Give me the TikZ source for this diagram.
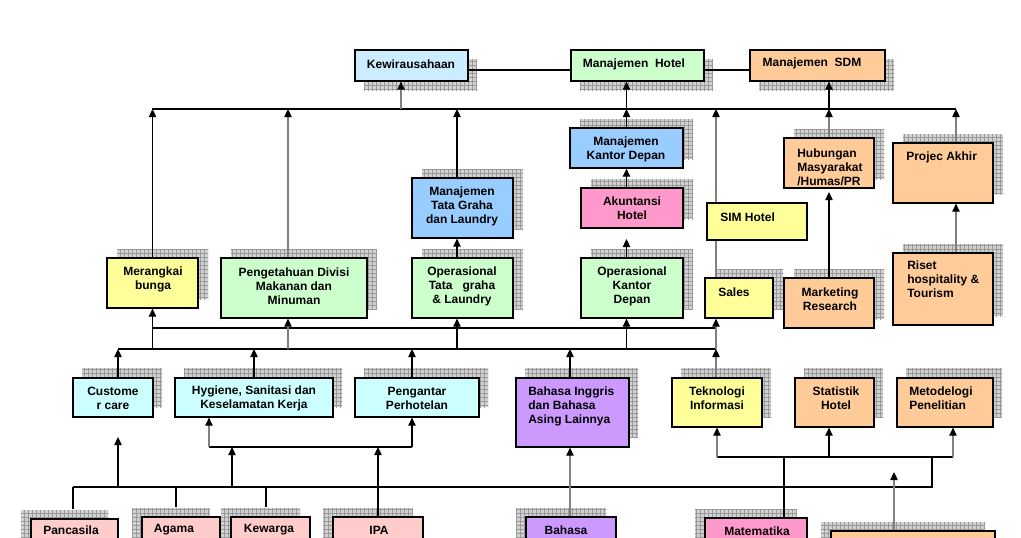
\documentclass[tikz,border=0pt]{standalone}
\usepackage{fontspec}
\setmainfont{Liberation Sans}
\usetikzlibrary{arrows.meta,patterns,fit}
\pgfdeclarelayer{bg}\pgfdeclarelayer{lines}
\pgfsetlayers{bg,lines,main}
\definecolor{cK}{HTML}{CCECFF}
\definecolor{cG}{HTML}{CCFFCC}
\definecolor{cO}{HTML}{FFCC99}
\definecolor{cY}{HTML}{FFFF99}
\definecolor{cB}{HTML}{99CCFF}
\definecolor{cR}{HTML}{FF99CC}
\definecolor{cT}{HTML}{CCFFFF}
\definecolor{cL}{HTML}{CC99FF}
\definecolor{cP}{HTML}{FFCCCC}
\tikzset{
  bxs/.style={draw=black,line width=0.9pt,inner sep=0pt},
  tx/.style={font=\fontsize{9}{10.5}\selectfont\bfseries,inner sep=0pt,align=center},
  txl/.style={tx,align=left,anchor=west},
  blk/.style={draw=black,line width=0.9pt},
  gry/.style={draw=gray,line width=0.9pt},
  ar/.style={-{Triangle[length=6pt,width=5.5pt,color=black]}}
}
\newcommand\shbox[8]{%
  \begin{pgfonlayer}{bg}
    \fill[gray!35] ({#2+(#7)},{#3+(#8)}) rectangle ({#4+(#7)},{#5+(#8)});
    \fill[pattern=grid,pattern color=gray!80] ({#2+(#7)},{#3+(#8)}) rectangle ({#4+(#7)},{#5+(#8)});
  \end{pgfonlayer}
  \node[bxs,fill=#6,fit={(#2,#3) (#4,#5)}] (#1) {};
}
\begin{document}
\begin{tikzpicture}[x=0.75pt,y=-0.75pt]
\useasboundingbox (0,0) rectangle (1021,537);
\begin{pgfonlayer}{bg}
  \fill[white] (0,0) rectangle (1021,537);
\end{pgfonlayer}
% top row
\shbox{K}{355}{50}{468}{81}{cK}{9}{9}
\shbox{MH}{571}{50}{704}{81}{cG}{9}{9}
\shbox{SDM}{750}{50}{885}{81}{cO}{9}{9}
% second row
\shbox{MKD}{570}{128}{683}{168}{cB}{10}{-9}
\shbox{Hub}{784}{138}{874}{188}{cO}{10}{-9}
\shbox{Proj}{893}{143}{993}{203}{cO}{10}{-9}
\shbox{MTG}{412}{178}{513}{238}{cB}{10}{-9}
\shbox{Akun}{581}{188}{683}{228}{cR}{10}{-9}
% third row
\shbox{Mer}{107}{258}{198}{308}{cY}{10}{-9}
\shbox{Pen}{221}{258}{367}{318}{cG}{10}{-9}
\shbox{OTG}{412}{258}{513}{318}{cG}{10}{-9}
\shbox{OKD}{581}{258}{683}{318}{cG}{10}{-9}
\shbox{Sales}{705}{278}{773}{318}{cY}{10}{-9}
\shbox{MR}{784}{278}{874}{328}{cO}{10}{-9}
\shbox{Riset}{893}{253}{993}{325}{cO}{10}{-9}
% fourth row
\shbox{Cust}{73}{378}{153}{417}{cT}{9}{-10}
\shbox{Hyg}{175}{378}{333}{417}{cT}{9}{-10}
\shbox{Peng}{355}{378}{479}{417}{cT}{9}{-10}
\shbox{BI}{516}{378}{629}{447}{cL}{9}{-10}
\shbox{TI}{672}{378}{762}{427}{cY}{9}{-10}
\shbox{Stat}{795}{378}{874}{427}{cO}{9}{-10}
\shbox{Met}{897}{378}{993}{427}{cO}{9}{-10}
% bottom row
\shbox{Panc}{31}{519}{118}{548}{cP}{-10}{-9}
\shbox{Agama}{142}{517}{220}{548}{cP}{-10}{-9}
\shbox{Kew}{231}{517}{310}{548}{cP}{-10}{-9}
\shbox{IPA}{333}{517}{423}{548}{cP}{-10}{-9}
\shbox{Bah}{526}{517}{616}{548}{cL}{-10}{-9}
\shbox{Mat}{705}{518}{807}{548}{cR}{-10}{-9}
\shbox{BR}{831}{531}{995}{548}{cO}{-10}{-9}
% SIM Hotel (no shadow)
\node[bxs,fill=cY,fit={(707,203) (807,240)}] (SIM) {};

% texts
\node[tx] (tK) at (411,64) {Kewirausahaan};
\node[tx] (tMH) at (634,64) {Manajemen\ \ Hotel};
\node[tx] (tSDM) at (812,63) {Manajemen\ \ SDM};
\node[tx] (tMKD) at (626,149) {Manajemen\\Kantor Depan};
\node[txl] (tHub) at (797,167) {Hubungan\\Masyarakat\\/Humas/PR};
\node[txl] (tProj) at (906,157) {Projec Akhir};
\node[tx] (tMTG) at (462,206) {Manajemen\\Tata Graha\\dan Laundry};
\node[tx] (tAkun) at (632,208) {Akuntansi\\Hotel};
\node[txl] (tSIM) at (720,217) {SIM Hotel};
\node[tx] (tMer) at (153,279) {Merangkai\\bunga};
\node[tx] (tPen) at (294,286) {Pengetahuan Divisi\\Makanan dan\\Minuman};
\node[tx] (tOTG) at (462,286) {Operasional\\Tata\ \ \ graha\\\&~Laundry};
\node[tx] (tOKD) at (632,286) {Operasional\\Kantor\\Depan};
\node[txl] (tSales) at (718,292) {Sales};
\node[tx] (tMR) at (830,299) {Marketing\\Research};
\node[txl] (tRiset) at (907,279) {Riset\\hospitality \&\\Tourism};
\node[tx] (tCust) at (113,398) {Custome\\r care};
\node[tx] (tHyg) at (254,398) {Hygiene, Sanitasi dan\\Keselamatan Kerja};
\node[tx] (tPeng) at (417,398) {Pengantar\\Perhotelan};
\node[txl] (tBI) at (528,406) {Bahasa Inggris\\dan Bahasa\\Asing Lainnya};
\node[tx] (tTI) at (717,398) {Teknologi\\Informasi};
\node[tx] (tStat) at (836,398) {Statistik\\Hotel};
\node[txl] (tMet) at (909,398) {Metodelogi\\Penelitian};
\node[tx] (tPanc) at (71,530.5) {Pancasila};
\node[tx] (tAg) at (174,530) {Agama};
\node[tx] (tKew) at (269,530) {Kewarga};
\node[tx] (tIPA) at (379,530) {IPA};
\node[tx] (tBah) at (566,530) {Bahasa};
\node[tx] (tMat) at (757,531) {Matematika};

\begin{pgfonlayer}{lines}
% top connectors
\draw[blk] (K.east |- 0,70) -- (MH.west |- 0,70);
\draw[blk] (MH.east |- 0,70) -- (SDM.west |- 0,70);
\coordinate (tb1) at (152,109);
\coordinate (tb2) at (956,109);
\draw[blk] (tb1) -- (tb2);
\coordinate (kx) at (401,109);
\draw[gry,ar] (kx) -- (kx |- K.south);
\draw[blk,ar] (MKD.north) -- (MKD.north |- tb1);
\draw[blk,ar] (MKD.north |- tb1) -- (MKD.north |- MH.south);
\draw[gry,ar] (Hub.north) -- (Hub.north |- tb1);
\draw[blk,ar] (Hub.north |- tb1) -- (Hub.north |- SDM.south);
\draw[blk,ar] (Mer.north) -- (Mer.north |- tb1);
\coordinate (pgx) at (288,109);
\draw[gry,ar] (pgx |- Pen.north) -- (pgx);
\coordinate (tgx) at (457,109);
\draw[blk,ar] (tgx |- MTG.north) -- (tgx);
\draw[blk,ar] (tgx |- OTG.north) -- (tgx |- MTG.south);
\draw[blk,ar] (MKD.north |- Akun.north) -- (MKD.south);
\coordinate (okdtip) at (626.5,239);
\draw[blk,ar] (MKD.north |- OKD.north) -- (okdtip);
\coordinate (sx) at (716,109);
\draw[gry,ar] (sx |- Sales.north) -- (sx);
\coordinate (hubtip) at (829,192);
\draw[blk,ar] (MR.north) -- (hubtip);
\draw[gry,ar] (tb2 |- Proj.north) -- (tb2);
\draw[gry,ar] (tb2 |- Riset.north) -- (tb2 |- Proj.south);
% middle buses
\coordinate (m1a) at (152,328);
\coordinate (m1b) at (716,328);
\coordinate (m2a) at (118,349);
\coordinate (m2b) at (716,349);
\draw[blk] (m1a) -- (m1b);
\draw[blk] (m2a) -- (m2b);
\draw[blk,ar] (m2a -| Mer.south) -- (Mer.south);
\draw[gry,ar] (m2a -| pgx) -- (pgx |- Pen.south);
\draw[blk,ar] (m2a -| tgx) -- (tgx |- OTG.south);
\draw[blk,ar] (m2a -| MKD.north) -- (MKD.north |- OKD.south);
\draw[gry,ar] (m1b) -- (sx |- Sales.south);
\draw[gry] (m2b) -- (m1b);
\draw[gry,ar] (m2b |- TI.north) -- (m2b);
\draw[blk,ar] (m2a |- Cust.north) -- (m2a);
\draw[blk,ar] (Hyg.north) -- (Hyg.north |- m2a);
\coordinate (pnx) at (412,349);
\draw[blk,ar] (pnx |- Peng.north) -- (pnx);
\coordinate (bix) at (570,349);
\draw[blk,ar] (bix |- BI.north) -- (bix);
% lower buses
\coordinate (l3a) at (73,487);
\coordinate (l3b) at (932,487);
\coordinate (l4a) at (717,457);
\coordinate (l4b) at (953,457);
\coordinate (l4c) at (932,457);
\draw[blk] (l3a) -- (l3b) -- (l4c);
\draw[blk] (l4a) -- (l4b);
\draw[blk,shorten >=6.75pt] (l3a) -- (l3a |- Panc.north);
\coordinate (agx) at (176,487);
\draw[blk,shorten >=6.75pt] (agx) -- (agx |- Agama.north);
\coordinate (kwx) at (266,487);
\draw[blk,shorten >=6.75pt] (kwx) -- (kwx |- Kew.north);
\coordinate (ccx) at (118,487);
\coordinate (cctip) at (118,437);
\draw[blk,ar] (ccx) -- (cctip);
\coordinate (h1) at (209,447);
\coordinate (h2) at (412,447);
\draw[blk] (h1) -- (h2);
\draw[gry,ar] (h1) -- (h1 |- Hyg.south);
\draw[blk,ar] (h2) -- (h2 |- Peng.south);
\coordinate (hx) at (232,487);
\draw[blk,ar] (hx) -- (hx |- h1);
\draw[blk,ar] (IPA.north) -- (IPA.north |- h1);
\draw[gry,ar] (bix |- Bah.north) -- (bix |- BI.south);
\coordinate (mtx) at (784,457);
\draw[blk] (mtx |- Mat.north) -- (mtx);
\draw[gry,ar] (l4a) -- (l4a |- TI.south);
\coordinate (stx) at (829,457);
\draw[blk,ar] (stx) -- (stx |- Stat.south);
\draw[gry,ar] (l4b) -- (l4b |- Met.south);
\coordinate (brx) at (894,472);
\draw[gry,ar] (brx |- BR.north) -- (brx);
\end{pgfonlayer}
\end{tikzpicture}
\end{document}
